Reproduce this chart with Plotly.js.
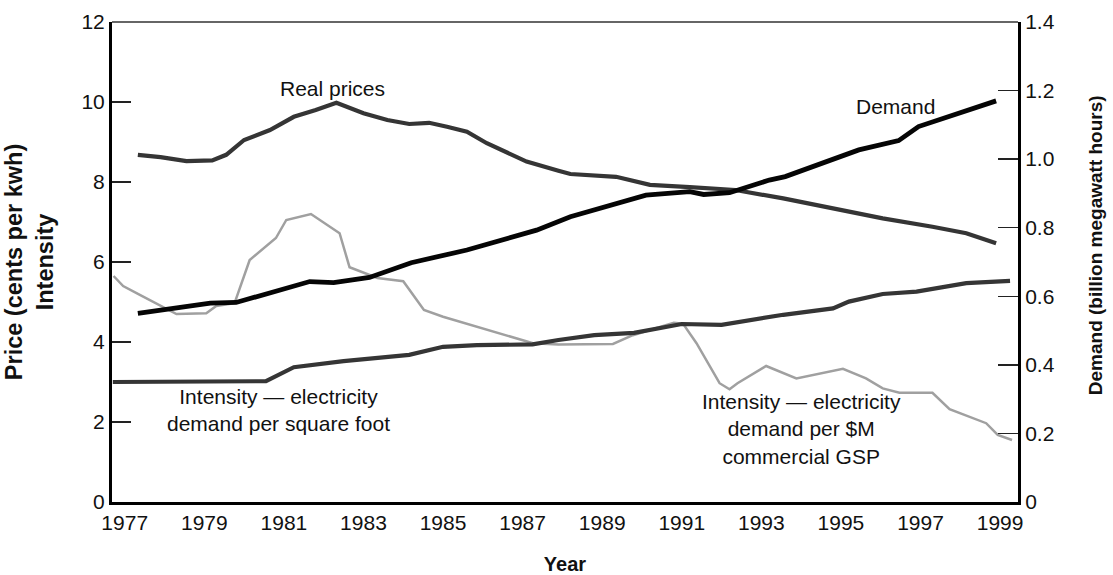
<!DOCTYPE html>
<html>
<head>
<meta charset="utf-8">
<script src="https://cdn.plot.ly/plotly-3.0.1.min.js"></script>
<style>html,body{margin:0;padding:0;background:#fff;}</style>
</head>
<body>
<div id="chart" style="width:1113px;height:575px;"></div>
<script>
// Real prices (cents per kwh), left axis
const priceYears = [1977.33, 1977.9, 1978.55, 1979.2, 1979.55, 1980.0, 1980.65, 1981.25, 1981.8, 1982.32, 1983.0, 1983.6, 1984.15, 1984.65, 1985.1, 1985.6, 1986.1, 1986.65, 1987.1, 1987.9, 1988.2, 1989.35, 1990.2, 1991.2, 1992.35, 1993.55, 1994.8, 1996.05, 1997.3, 1998.15, 1998.9];
const priceVals  = [8.68, 8.62, 8.52, 8.54, 8.68, 9.05, 9.3, 9.63, 9.8, 9.98, 9.72, 9.55, 9.45, 9.48, 9.38, 9.26, 8.97, 8.72, 8.51, 8.28, 8.2, 8.13, 7.93, 7.87, 7.8, 7.59, 7.34, 7.09, 6.88, 6.72, 6.47];

// Demand (billion megawatt hours), right axis
const demandYears = [1977.33, 1979.15, 1979.8, 1981.65, 1982.25, 1983.15, 1984.2, 1985.6, 1987.35, 1988.2, 1990.1, 1991.2, 1991.55, 1992.2, 1993.2, 1993.6, 1995.45, 1996.45, 1996.95, 1998.9];
const demandVals  = [0.55, 0.58, 0.582, 0.643, 0.64, 0.655, 0.698, 0.735, 0.793, 0.832, 0.895, 0.905, 0.897, 0.902, 0.939, 0.949, 1.027, 1.054, 1.095, 1.17];

// Intensity — electricity demand per square foot, left axis
const sqftYears = [1976.7, 1980.55, 1981.25, 1982.5, 1984.15, 1985.0, 1985.85, 1987.25, 1987.9, 1988.8, 1989.8, 1991.0, 1992.0, 1993.55, 1994.8, 1995.2, 1996.05, 1996.9, 1998.15, 1999.25];
const sqftVals  = [3.0, 3.02, 3.37, 3.52, 3.68, 3.88, 3.92, 3.94, 4.05, 4.17, 4.23, 4.45, 4.43, 4.68, 4.84, 5.01, 5.2, 5.26, 5.47, 5.53];

// Intensity — electricity demand per $M commercial GSP, left axis
const gspYears = [1976.72, 1976.96, 1977.38, 1978.3, 1979.05, 1979.3, 1979.76, 1980.14, 1980.8, 1981.06, 1981.68, 1982.4, 1982.65, 1983.35, 1984.0, 1984.52, 1985.0, 1987.26, 1987.9, 1989.27, 1989.77, 1990.8, 1991.03, 1991.37, 1991.95, 1992.2, 1992.4, 1993.12, 1993.88, 1995.05, 1995.63, 1996.05, 1996.47, 1997.3, 1997.73, 1998.65, 1998.94, 1999.3];
const gspVals  = [5.65, 5.4, 5.18, 4.7, 4.72, 4.9, 4.97, 6.05, 6.6, 7.05, 7.2, 6.72, 5.87, 5.6, 5.52, 4.8, 4.63, 3.97, 3.94, 3.95, 4.17, 4.48, 4.46, 3.97, 2.97, 2.82, 2.97, 3.4, 3.09, 3.33, 3.09, 2.84, 2.73, 2.73, 2.32, 1.97, 1.68, 1.55];

// Tick labels
const yearTicks = [1977, 1979, 1981, 1983, 1985, 1987, 1989, 1991, 1993, 1995, 1997, 1999];
const leftTicks = [0, 2, 4, 6, 8, 10, 12];
const rightTickVals = [0, 0.2, 0.4, 0.6, 0.8, 1.0, 1.2, 1.4];
const rightTickText = ['0', '0.2', '0.4', '0.6', '0.8', '1.0', '1.2', '1.4'];

// Labels
const labelReal = 'Real prices';
const labelDemand = 'Demand';
const labelSqft = 'Intensity — electricity<br>demand per square foot';
const labelGsp = 'Intensity — electricity<br>demand per $M<br>commercial GSP';
const rightTitle = '<b>Demand (billion megawatt hours)</b>';

const FONT = 'Liberation Sans, Arial, Helvetica, sans-serif';

const traces = [
  {x: gspYears, y: gspVals, type: 'scatter', mode: 'lines', name: 'GSP intensity',
   line: {color: '#a0a0a0', width: 2.5}, xaxis: 'x', yaxis: 'y'},
  {x: sqftYears, y: sqftVals, type: 'scatter', mode: 'lines', name: 'Sq ft intensity',
   line: {color: '#353535', width: 4.2}, xaxis: 'x', yaxis: 'y'},
  {x: priceYears, y: priceVals, type: 'scatter', mode: 'lines', name: 'Real prices',
   line: {color: '#353535', width: 4.2}, xaxis: 'x', yaxis: 'y'},
  {x: demandYears, y: demandVals, type: 'scatter', mode: 'lines', name: 'Demand',
   line: {color: '#050505', width: 4.8}, xaxis: 'x', yaxis: 'y2'}
];

const layout = {
  width: 1113, height: 575,
  margin: {l: 112, r: 95, t: 22, b: 73},
  paper_bgcolor: '#fff', plot_bgcolor: '#fff',
  showlegend: false,
  font: {family: FONT, color: '#111', size: 21},
  xaxis: {
    range: [1976.68, 1999.45], tickvals: yearTicks, ticks: '',
    showline: true, linewidth: 3, linecolor: '#000', showgrid: false, zeroline: false,
    tickfont: {size: 21, color: '#111'},
    title: {text: '<b>Year</b>', font: {size: 20, color: '#111'}, standoff: 29}
  },
  xaxis2: {
    overlaying: 'x', anchor: 'y', side: 'bottom', range: [0, 23], tick0: 0, dtick: 1,
    ticks: 'inside', ticklen: 19, tickwidth: 1.3, tickcolor: '#222',
    showticklabels: false, showline: false, showgrid: false, zeroline: false
  },
  yaxis: {
    range: [0, 12], tickvals: leftTicks, ticks: 'inside', ticklen: 19, tickwidth: 1.3, tickcolor: '#222',
    showline: true, linewidth: 3, linecolor: '#000', showgrid: false, zeroline: false,
    tickfont: {size: 21, color: '#111'},
    title: {text: '<b>Price (cents per kwh)<br>Intensity</b>', font: {size: 23.5, color: '#111'}, standoff: 22}
  },
  yaxis2: {
    overlaying: 'y', side: 'right', anchor: 'x', range: [0, 1.4],
    tickvals: rightTickVals, ticktext: rightTickText, ticks: 'inside', ticklen: 20, tickwidth: 1.3, tickcolor: '#222',
    showline: true, linewidth: 3, linecolor: '#000', showgrid: false, zeroline: false,
    tickfont: {size: 21, color: '#111'}
  },
  shapes: [
    {type: 'line', xref: 'paper', yref: 'paper', x0: 0, x1: 1, y0: 1, y1: 1,
     line: {color: '#333', width: 1.5}}
  ],
  annotations: [
    {text: labelReal, x: 1982.23, y: 10.33, xref: 'x', yref: 'y', showarrow: false,
     font: {size: 21, color: '#111'}, xanchor: 'center', yanchor: 'middle'},
    {text: labelDemand, x: 1996.37, y: 9.88, xref: 'x', yref: 'y', showarrow: false,
     font: {size: 21, color: '#111'}, xanchor: 'center', yanchor: 'middle'},
    {text: labelSqft, x: 1980.87, y: 2.3, xref: 'x', yref: 'y', showarrow: false,
     font: {size: 21, color: '#111'}, xanchor: 'center', yanchor: 'middle', align: 'center'},
    {text: labelGsp, x: 1994.0, y: 1.83, xref: 'x', yref: 'y', showarrow: false,
     font: {size: 21, color: '#111'}, xanchor: 'center', yanchor: 'middle', align: 'center'},
    {text: rightTitle, xref: 'paper', yref: 'paper', x: 1.085, y: 0.535, textangle: -90,
     showarrow: false, font: {size: 19, color: '#111'}, xanchor: 'center', yanchor: 'middle'}
  ]
};

Plotly.newPlot('chart', traces, layout, {staticPlot: true, displayModeBar: false});
</script>
</body>
</html>
